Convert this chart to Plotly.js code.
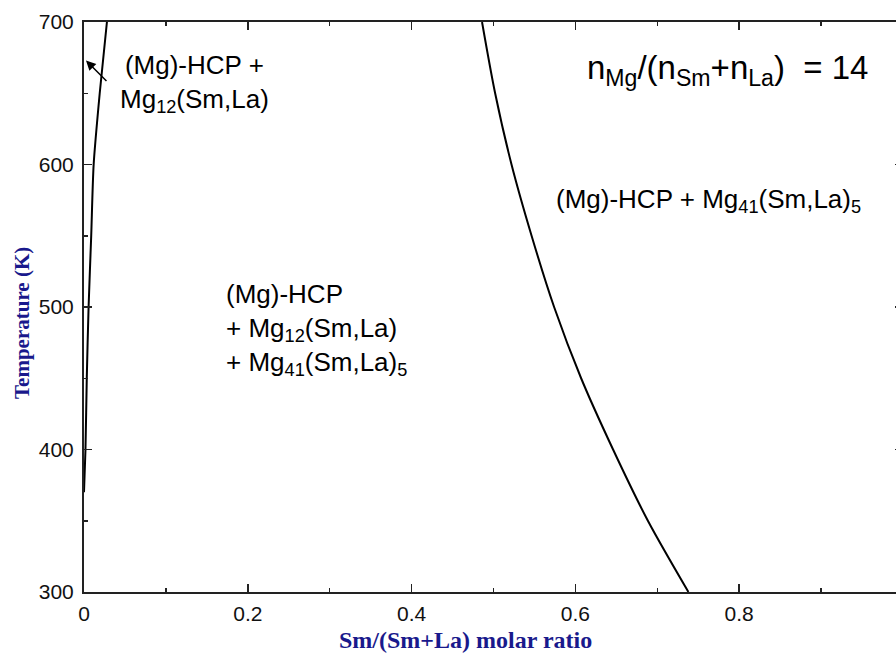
<!DOCTYPE html>
<html>
<head>
<meta charset="utf-8">
<script src="https://cdn.plot.ly/plotly-3.0.1.min.js"></script>
<style>
  html, body { margin: 0; padding: 0; overflow: hidden; background: #fff; }
  #chart { width: 910px; height: 654px; }
</style>
</head>
<body>
<div id="chart"></div>
<script>
// Boundary: (Mg)-HCP + Mg12(Sm,La) | three-phase region
const leftBoundaryX = [0, 0.0018, 0.0034, 0.0056, 0.0088, 0.0118, 0.0192, 0.028];
const leftBoundaryT = [370, 400, 450, 500, 550, 600, 650, 700];

// Boundary: three-phase region | (Mg)-HCP + Mg41(Sm,La)5
const rightBoundaryX = [0.486, 0.502, 0.522, 0.5465, 0.574, 0.607, 0.646, 0.6885, 0.738];
const rightBoundaryT = [700, 650, 600, 550, 500, 450, 400, 350, 300];

const xTickVals = [0, 0.2, 0.4, 0.6, 0.8, 1];
const xTickText = ['0', '0.2', '0.4', '0.6', '0.8', '1'];
const yTickVals = [300, 400, 500, 600, 700];
const yTickText = ['300', '400', '500', '600', '700'];

const xTitle = 'Sm/(Sm+La) molar ratio';
const yTitle = 'Temperature (K)';

const labelTwoPhaseLeft = '(Mg)-HCP +<br>Mg<sub>12</sub>(Sm,La)';
const labelRatio = 'n<sub>Mg</sub>/(n<sub>Sm</sub>+n<sub>La</sub>)  = 14';
const labelTwoPhaseRight = '(Mg)-HCP + Mg<sub>41</sub>(Sm,La)<sub>5</sub>';
const labelThreePhase = '(Mg)-HCP<br>+ Mg<sub>12</sub>(Sm,La)<br>+ Mg<sub>41</sub>(Sm,La)<sub>5</sub>';

const traces = [
  { x: leftBoundaryX, y: leftBoundaryT, mode: 'lines', type: 'scatter',
    line: { color: '#000', width: 2, shape: 'spline', smoothing: 0.7 }, hoverinfo: 'skip' },
  { x: rightBoundaryX, y: rightBoundaryT, mode: 'lines', type: 'scatter',
    line: { color: '#000', width: 2, shape: 'spline', smoothing: 0.8 }, hoverinfo: 'skip' }
];

const serif = '"Liberation Serif", "Times New Roman", serif';
const sans = '"Liberation Sans", Arial, sans-serif';
const titleColor = '#19198c';
const tickFont = { family: sans, size: 21, color: '#111' };
const annFont = { family: sans, size: 26, color: '#000' };

const layout = {
  width: 910, height: 654,
  margin: { l: 84, r: 7, t: 22, b: 62 },
  paper_bgcolor: '#fff', plot_bgcolor: '#fff',
  showlegend: false,
  xaxis: {
    range: [0, 1], tickvals: xTickVals, ticktext: xTickText,
    ticks: 'inside', ticklen: 8, tickwidth: 1.5, tickcolor: '#222',
    minor: { dtick: 0.1, ticks: 'inside', ticklen: 4, tickwidth: 1.5, tickcolor: '#222' },
    showline: true, linecolor: '#222', linewidth: 2, mirror: 'allticks',
    showgrid: false, zeroline: false, tickfont: tickFont, ticklabelstandoff: 2
  },
  yaxis: {
    range: [300, 700], tickvals: yTickVals, ticktext: yTickText,
    ticks: 'inside', ticklen: 8, tickwidth: 1.5, tickcolor: '#222',
    minor: { dtick: 50, ticks: 'inside', ticklen: 4, tickwidth: 1.5, tickcolor: '#222' },
    showline: true, linecolor: '#222', linewidth: 2, mirror: 'allticks',
    showgrid: false, zeroline: false, tickfont: tickFont, ticklabelstandoff: 4
  },
  annotations: [
    { x: 0.4658, y: -0.084, xref: 'paper', yref: 'paper', text: '<b>' + xTitle + '</b>', showarrow: false,
      font: { family: serif, size: 24, color: titleColor }, xanchor: 'center', yanchor: 'middle' },
    { x: -0.0757, y: 0.472, xref: 'paper', yref: 'paper', text: '<b>' + yTitle + '</b>', showarrow: false,
      textangle: -90, font: { family: serif, size: 21, color: titleColor }, xanchor: 'center', yanchor: 'middle' },
    { x: 0.1355, y: 656.5, xref: 'x', yref: 'y', text: labelTwoPhaseLeft, showarrow: false,
      font: annFont, align: 'center', xanchor: 'center', yanchor: 'middle' },
    { x: 0.7857, y: 666, xref: 'x', yref: 'y', text: labelRatio, showarrow: false,
      font: { family: sans, size: 33, color: '#000' }, xanchor: 'center', yanchor: 'middle' },
    { x: 0.763, y: 575, xref: 'x', yref: 'y', text: labelTwoPhaseRight, showarrow: false,
      font: annFont, xanchor: 'center', yanchor: 'middle' },
    { x: 0.171, y: 484, xref: 'x', yref: 'y', text: labelThreePhase, showarrow: false,
      font: annFont, align: 'left', xanchor: 'left', yanchor: 'middle' },
    { x: 0.0024, y: 673, xref: 'x', yref: 'y', text: '', showarrow: true,
      ax: 22, ay: 22, arrowhead: 2, arrowsize: 1.3, arrowwidth: 1.5, arrowcolor: '#000', standoff: 0 }
  ]
};

Plotly.newPlot('chart', traces, layout, { staticPlot: true, displayModeBar: false });
</script>
</body>
</html>
